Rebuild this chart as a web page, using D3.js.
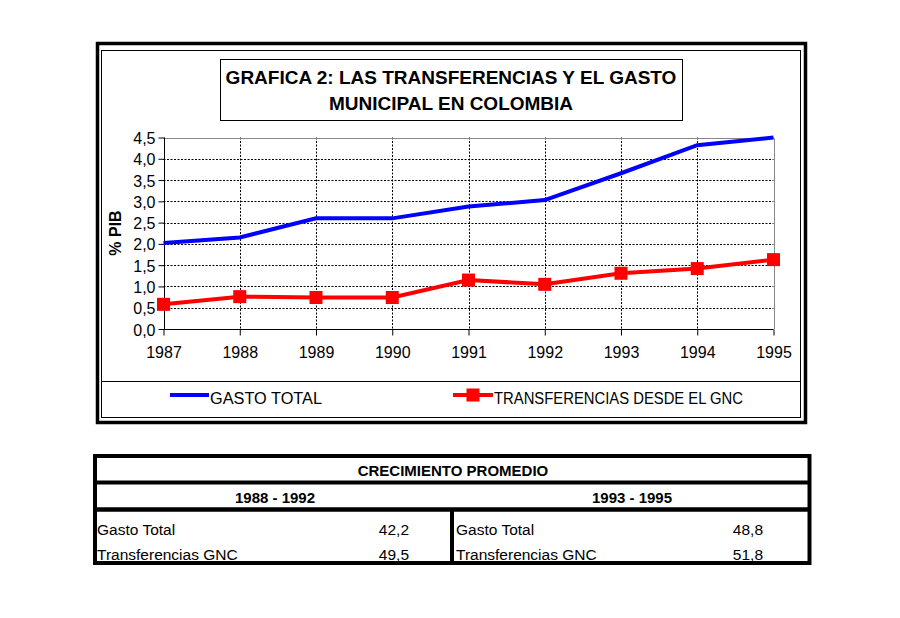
<!DOCTYPE html>
<html>
<head>
<meta charset="utf-8">
<script src="https://cdn.jsdelivr.net/npm/d3@7"></script>
<style>
  body { margin: 0; background: #fff; }
  svg { font-family: "Liberation Sans", Arial, sans-serif; }
  .grid line { stroke: #000; stroke-width: 1; stroke-dasharray: 2,1.5; }
  .axis text { font-size: 16px; fill: #000; }
  .axis path, .axis line { stroke: #000; }
</style>
</head>
<body>
<div id="chart"></div>
<script>
// data
var years = [1987, 1988, 1989, 1990, 1991, 1992, 1993, 1994, 1995];
var gastoTotal = [2.02, 2.15, 2.6, 2.6, 2.88, 3.03, 3.66, 4.32, 4.5];
var transferencias = [0.58, 0.76, 0.74, 0.74, 1.15, 1.05, 1.31, 1.42, 1.63];
var yTicks = [0, 0.5, 1, 1.5, 2, 2.5, 3, 3.5, 4, 4.5];
var seriesNames = ["GASTO TOTAL", "TRANSFERENCIAS DESDE EL GNC"];
var titleLines = ["GRAFICA 2: LAS TRANSFERENCIAS Y EL GASTO", "MUNICIPAL EN COLOMBIA"];

// table below the chart
var tableTitle = "CRECIMIENTO PROMEDIO";
var periods = ["1988 - 1992", "1993 - 1995"];
var tableRows = ["Gasto Total", "Transferencias GNC"];
var growth1 = [42.2, 49.5];
var growth2 = [48.8, 51.8];

function init() {
    var w = 900, h = 618;
    var fmt = function (v) { return d3.format(".1f")(v).replace(".", ","); };

    var svg = d3.select("#chart").append("svg")
        .attr("width", w)
        .attr("height", h);

    // frame around the chart (thick outer, thin inner)
    svg.append("rect")
        .attr("x", 97.5).attr("y", 43.5).attr("width", 708).attr("height", 379)
        .attr("fill", "none").attr("stroke", "#000").attr("stroke-width", 3.5);
    svg.append("rect")
        .attr("x", 101.5).attr("y", 50.5).attr("width", 699).attr("height", 367)
        .attr("fill", "none").attr("stroke", "#000").attr("stroke-width", 1);
    svg.append("line")
        .attr("x1", 101.5).attr("x2", 800.5).attr("y1", 381.5).attr("y2", 381.5)
        .attr("stroke", "#000");

    // title box
    svg.append("rect")
        .attr("x", 220.5).attr("y", 59.5).attr("width", 462).attr("height", 61)
        .attr("fill", "none").attr("stroke", "#000");
    svg.selectAll(".title")
        .data(titleLines)
        .enter().append("text")
        .attr("x", 451)
        .attr("y", function (d, i) { return 84 + i * 26; })
        .attr("text-anchor", "middle")
        .style("font-size", "19px")
        .style("font-weight", "bold")
        .text(function (d) { return d; });

    // scales
    var xScale = d3.scalePoint()
        .domain(years)
        .range([163.5, 773.5]);

    var yScale = d3.scaleLinear()
        .domain([0, 4.5])
        .range([329, 137.5]);

    // grid lines
    var grid = svg.append("g").attr("class", "grid");
    grid.selectAll(".hg")
        .data(yTicks.filter(function (d) { return d > 0 && d < 4.5; }))
        .enter().append("line")
        .attr("x1", xScale(years[0])).attr("x2", xScale(years[years.length - 1]))
        .attr("y1", function (d) { return Math.round(yScale(d)) + 0.5; })
        .attr("y2", function (d) { return Math.round(yScale(d)) + 0.5; });
    grid.selectAll(".vg")
        .data(years.slice(1, years.length - 1))
        .enter().append("line")
        .attr("x1", function (d) { return Math.round(xScale(d)) + 0.5; })
        .attr("x2", function (d) { return Math.round(xScale(d)) + 0.5; })
        .attr("y1", yScale(4.5)).attr("y2", yScale(0));

    // top and right borders of the plot
    svg.append("path")
        .attr("d", "M" + xScale(years[0]) + "," + (Math.round(yScale(4.5)) + 0.5) +
            "H" + (Math.round(xScale(1995)) + 0.5) + "V" + yScale(0))
        .attr("fill", "none").attr("stroke", "#888");

    // axes
    var xAxis = d3.axisBottom(xScale).tickSize(6).tickPadding(7);
    var yAxis = d3.axisLeft(yScale).tickValues(yTicks).tickFormat(fmt).tickSize(6).tickPadding(3);

    var gx = svg.append("g")
        .attr("class", "axis")
        .attr("transform", "translate(0," + (Math.round(yScale(0)) + 0.5) + ")")
        .call(xAxis);
    gx.select(".domain").attr("d", "M" + xScale(years[0]) + ",0H" + xScale(years[years.length - 1]));
    gx.selectAll("text").attr("dy", "0.95em");

    var gy = svg.append("g")
        .attr("class", "axis")
        .attr("transform", "translate(" + (Math.round(xScale(years[0])) + 0.5) + ",0)")
        .call(yAxis);
    gy.select(".domain").attr("d", "M0," + yScale(4.5) + "V" + yScale(0));
    gy.selectAll("text").attr("dy", "0.38em");

    // y title
    svg.append("text")
        .attr("transform", "translate(121,233) rotate(-90)")
        .attr("text-anchor", "middle")
        .style("font-size", "16px")
        .style("font-weight", "bold")
        .text("% PIB");

    // lines
    var line = d3.line()
        .x(function (d, i) { return xScale(years[i]); })
        .y(function (d) { return yScale(d); });

    svg.append("path")
        .datum(gastoTotal)
        .attr("fill", "none")
        .attr("stroke", "#0000ff")
        .attr("stroke-width", 4)
        .attr("d", line);

    svg.append("path")
        .datum(transferencias)
        .attr("fill", "none")
        .attr("stroke", "#ff0000")
        .attr("stroke-width", 4)
        .attr("d", line);

    svg.selectAll(".marker")
        .data(transferencias)
        .enter().append("rect")
        .attr("x", function (d, i) { return xScale(years[i]) - 6.5; })
        .attr("y", function (d) { return yScale(d) - 6.5; })
        .attr("width", 13).attr("height", 13)
        .attr("fill", "#ff0000");

    // legend
    var leg = svg.append("g");
    leg.append("line")
        .attr("x1", 170).attr("x2", 209).attr("y1", 395).attr("y2", 395)
        .attr("stroke", "#0000ff").attr("stroke-width", 4);
    leg.append("text")
        .attr("x", 210).attr("y", 404)
        .style("font-size", "16px")
        .attr("textLength", 112)
        .attr("lengthAdjust", "spacingAndGlyphs")
        .text(seriesNames[0]);
    leg.append("line")
        .attr("x1", 453).attr("x2", 493).attr("y1", 395).attr("y2", 395)
        .attr("stroke", "#ff0000").attr("stroke-width", 4);
    leg.append("rect")
        .attr("x", 466.5).attr("y", 388.5).attr("width", 13).attr("height", 13)
        .attr("fill", "#ff0000");
    leg.append("text")
        .attr("x", 494).attr("y", 404)
        .style("font-size", "16px")
        .attr("textLength", 249)
        .attr("lengthAdjust", "spacingAndGlyphs")
        .text(seriesNames[1]);

    // table
    var tb = svg.append("g");
    tb.append("rect")
        .attr("x", 95).attr("y", 456).attr("width", 714.5).attr("height", 107)
        .attr("fill", "none").attr("stroke", "#000").attr("stroke-width", 4);
    tb.append("line")
        .attr("x1", 95).attr("x2", 809.5).attr("y1", 482.5).attr("y2", 482.5)
        .attr("stroke", "#000").attr("stroke-width", 4);
    tb.append("line")
        .attr("x1", 95).attr("x2", 809.5).attr("y1", 509.5).attr("y2", 509.5)
        .attr("stroke", "#000").attr("stroke-width", 4.5);
    tb.append("line")
        .attr("x1", 452).attr("x2", 452).attr("y1", 509.5).attr("y2", 563)
        .attr("stroke", "#000").attr("stroke-width", 4);

    tb.append("text")
        .attr("x", 453).attr("y", 476)
        .attr("text-anchor", "middle")
        .style("font-size", "15px").style("font-weight", "bold")
        .text(tableTitle);
    tb.selectAll(".period")
        .data(periods)
        .enter().append("text")
        .attr("x", function (d, i) { return i === 0 ? 275 : 632; })
        .attr("y", 503)
        .attr("text-anchor", "middle")
        .style("font-size", "15px").style("font-weight", "bold")
        .text(function (d) { return d; });

    [growth1, growth2].forEach(function (vals, c) {
        var x0 = c === 0 ? 97 : 456;
        var x1 = c === 0 ? 409 : 763;
        tb.selectAll(".lab" + c)
            .data(tableRows)
            .enter().append("text")
            .attr("x", x0)
            .attr("y", function (d, i) { return 535 + i * 24.5; })
            .style("font-size", "15.5px")
            .text(function (d) { return d; });
        tb.selectAll(".val" + c)
            .data(vals)
            .enter().append("text")
            .attr("x", x1)
            .attr("y", function (d, i) { return 535 + i * 24.5; })
            .attr("text-anchor", "end")
            .style("font-size", "15.5px")
            .text(fmt);
    });
}

window.onload = init;
</script>
</body>
</html>
